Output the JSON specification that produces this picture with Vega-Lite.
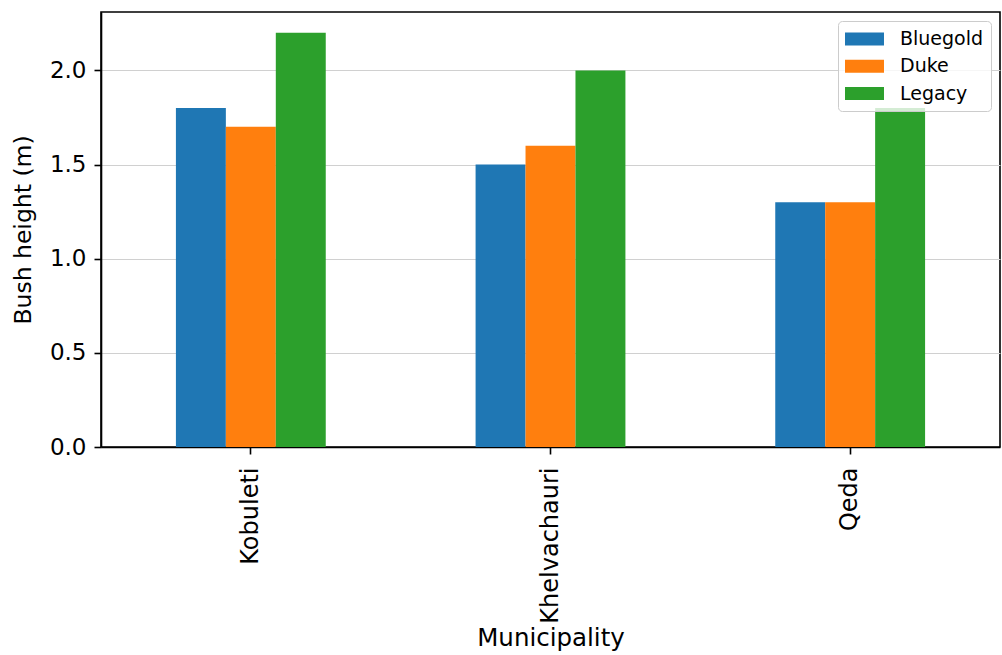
{
  "$schema": "https://vega.github.io/schema/vega-lite/v6.json",
  "width": 899,
  "height": 435,
  "autosize": {"type": "none"},
  "padding": {"left": 101, "top": 12, "right": 2, "bottom": 208},
  "background": "white",
  "config": {
    "font": "DejaVu Sans",
    "view": {"stroke": "black", "strokeWidth": 1.6},
    "axis": {
      "labelFont": "DejaVu Sans",
      "titleFont": "DejaVu Sans",
      "labelFontSize": 23,
      "titleFontSize": 23.5,
      "titleFontWeight": "normal",
      "labelColor": "black",
      "titleColor": "black",
      "domainColor": "black",
      "domainWidth": 1.6,
      "tickColor": "black",
      "tickSize": 7,
      "tickWidth": 1.6
    }
  },
  "data": {
    "values": [
      {"Municipality": "Kobuleti", "Variety": "Bluegold", "height": 1.8},
      {"Municipality": "Kobuleti", "Variety": "Duke", "height": 1.7},
      {"Municipality": "Kobuleti", "Variety": "Legacy", "height": 2.2},
      {"Municipality": "Khelvachauri", "Variety": "Bluegold", "height": 1.5},
      {"Municipality": "Khelvachauri", "Variety": "Duke", "height": 1.6},
      {"Municipality": "Khelvachauri", "Variety": "Legacy", "height": 2.0},
      {"Municipality": "Qeda", "Variety": "Bluegold", "height": 1.3},
      {"Municipality": "Qeda", "Variety": "Duke", "height": 1.3},
      {"Municipality": "Qeda", "Variety": "Legacy", "height": 1.8}
    ]
  },
  "mark": {"type": "bar"},
  "encoding": {
    "x": {
      "field": "Municipality",
      "type": "nominal",
      "sort": ["Kobuleti", "Khelvachauri", "Qeda"],
      "scale": {"paddingInner": 0.5, "paddingOuter": 0.25},
      "axis": {
        "title": "Municipality",
        "labelAngle": -90,
        "labelAlign": "right",
        "labelBaseline": "middle",
        "labelFontSize": 24,
        "labelPadding": 13,
        "titleFontSize": 24.5,
        "titlePadding": 3,
        "grid": false
      }
    },
    "xOffset": {
      "field": "Variety",
      "type": "nominal",
      "sort": ["Bluegold", "Duke", "Legacy"],
      "scale": {"paddingInner": 0, "paddingOuter": 0}
    },
    "y": {
      "field": "height",
      "type": "quantitative",
      "scale": {"domain": [0, 2.31], "nice": false, "zero": true},
      "axis": {
        "title": "Bush height (m)",
        "values": [0, 0.5, 1.0, 1.5, 2.0],
        "format": ".1f",
        "grid": true,
        "gridColor": "#d0d0d0",
        "gridWidth": 1,
        "labelPadding": 8,
        "titlePadding": 14
      }
    },
    "color": {
      "field": "Variety",
      "type": "nominal",
      "sort": ["Bluegold", "Duke", "Legacy"],
      "scale": {"domain": ["Bluegold", "Duke", "Legacy"], "range": ["#1f77b4", "#ff7f0e", "#2ca02c"]},
      "legend": {
        "title": null,
        "orient": "none",
        "legendX": 737,
        "legendY": 9,
        "direction": "vertical",
        "strokeColor": "#cccccc",
        "fillColor": "rgba(255,255,255,0.8)",
        "cornerRadius": 4,
        "padding": 7,
        "rowPadding": 6.3,
        "symbolType": "M-1,-0.591h3.545v1.182h-3.545z",
        "symbolSize": 484,
        "symbolStrokeWidth": 0,
        "symbolOpacity": 1,
        "labelFontSize": 19,
        "labelFont": "DejaVu Sans",
        "labelColor": "black",
        "labelOffset": 33
      }
    }
  }
}
